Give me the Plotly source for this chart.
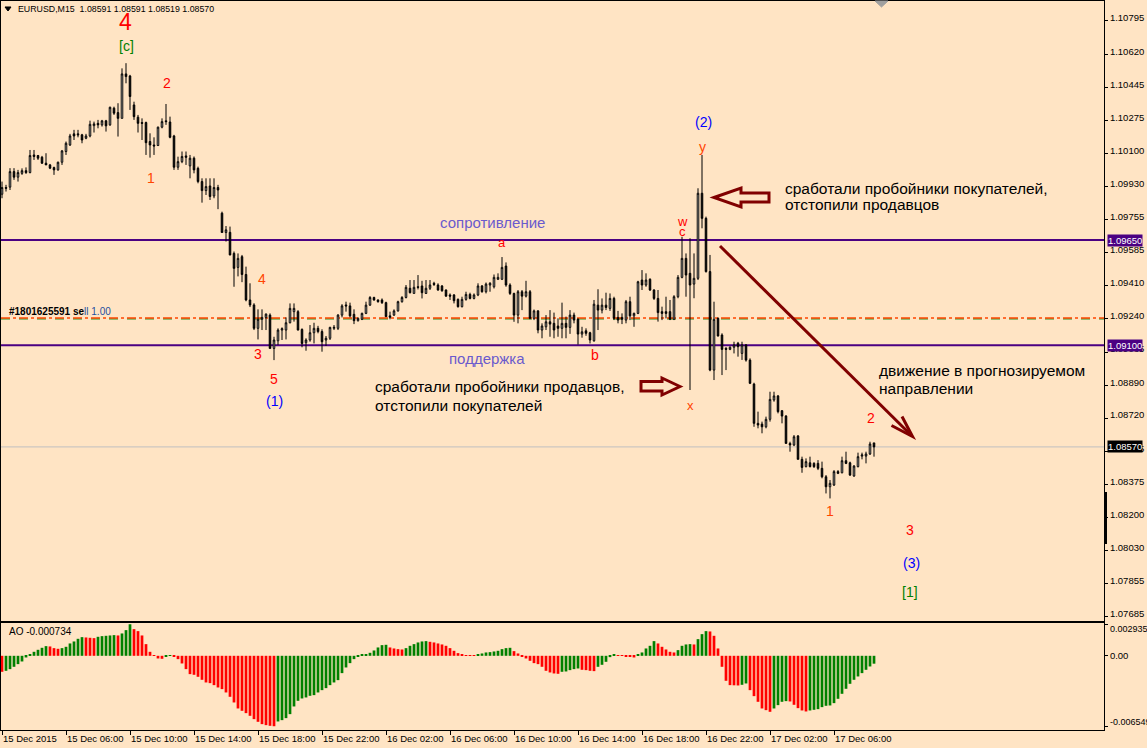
import plotly.graph_objects as go
import pandas as pd

# ---------------- data ----------------
start_time = "2015-12-15 02:00"
opens = [
    1.09889, 1.09924, 1.09926, 1.10007, 1.09978, 1.09998, 1.10012, 1.10002, 1.10094, 1.10091,
    1.10082, 1.10051, 1.10042, 1.10028, 1.10016, 1.10056, 1.10112, 1.10146, 1.10204, 1.10204,
    1.10199, 1.10181, 1.10193, 1.10247, 1.10259, 1.10251, 1.10272, 1.10251, 1.10338, 1.10315,
    1.10285, 1.10517, 1.10506, 1.10355, 1.10291, 1.10263, 1.10263, 1.10164, 1.10146, 1.10143,
    1.10239, 1.10272, 1.10266, 1.10193, 1.10030, 1.10059, 1.10089, 1.10037, 1.10077, 1.10024,
    1.09955, 1.09908, 1.09932, 1.09880, 1.09924, 1.09790, 1.09689, 1.09690, 1.09580, 1.09507,
    1.09563, 1.09470, 1.09337, 1.09311, 1.09189, 1.09236, 1.09246, 1.09258, 1.09084, 1.09124,
    1.09180, 1.09180, 1.09218, 1.09276, 1.09276, 1.09183, 1.09114, 1.09128, 1.09166, 1.09189,
    1.09172, 1.09128, 1.09137, 1.09189, 1.09189, 1.09258, 1.09311, 1.09306, 1.09262, 1.09229,
    1.09236, 1.09267, 1.09310, 1.09350, 1.09337, 1.09337, 1.09323, 1.09254, 1.09258, 1.09280,
    1.09328, 1.09350, 1.09398, 1.09371, 1.09406, 1.09410, 1.09371, 1.09398, 1.09424, 1.09415,
    1.09410, 1.09389, 1.09363, 1.09363, 1.09340, 1.09302, 1.09340, 1.09366, 1.09345, 1.09363,
    1.09410, 1.09380, 1.09415, 1.09406, 1.09445, 1.09445, 1.09514, 1.09415, 1.09371, 1.09258,
    1.09380, 1.09357, 1.09380, 1.09241, 1.09280, 1.09180, 1.09197, 1.09223, 1.09215, 1.09201,
    1.09189, 1.09215, 1.09194, 1.09258, 1.09236, 1.09159, 1.09176, 1.09166, 1.09124, 1.09310,
    1.09284, 1.09310, 1.09293, 1.09345, 1.09246, 1.09246, 1.09232, 1.09328, 1.09254, 1.09267,
    1.09441, 1.09415, 1.09445, 1.09389, 1.09345, 1.09276, 1.09276, 1.09276, 1.09236, 1.09354,
    1.09455, 1.09554, 1.09476, 1.09420, 1.09450, 1.09894, 1.09763, 1.09485, 1.08971, 1.09241,
    1.09154, 1.09085, 1.09079, 1.09090, 1.09111, 1.09058, 1.09102, 1.09023, 1.08898, 1.08693,
    1.08689, 1.08675, 1.08714, 1.08815, 1.08836, 1.08759, 1.08731, 1.08588, 1.08580, 1.08627,
    1.08505, 1.08467, 1.08487, 1.08484, 1.08484, 1.08458, 1.08414, 1.08362, 1.08371, 1.08441,
    1.08435, 1.08498, 1.08487, 1.08418, 1.08467, 1.08522, 1.08522, 1.08533, 1.08591,
]
highs = [
    1.09955, 1.09938, 1.10025, 1.10025, 1.10016, 1.10024, 1.10029, 1.10120, 1.10120, 1.10094,
    1.10089, 1.10103, 1.10047, 1.10033, 1.10059, 1.10120, 1.10164, 1.10204, 1.10225, 1.10225,
    1.10204, 1.10204, 1.10273, 1.10268, 1.10277, 1.10277, 1.10277, 1.10346, 1.10346, 1.10364,
    1.10546, 1.10573, 1.10512, 1.10372, 1.10303, 1.10285, 1.10268, 1.10207, 1.10186, 1.10242,
    1.10285, 1.10360, 1.10294, 1.10199, 1.10085, 1.10112, 1.10112, 1.10094, 1.10086, 1.10033,
    1.09972, 1.09972, 1.09972, 1.09972, 1.09938, 1.09798, 1.09723, 1.09720, 1.09590, 1.09580,
    1.09572, 1.09511, 1.09424, 1.09320, 1.09288, 1.09288, 1.09267, 1.09267, 1.09145, 1.09189,
    1.09194, 1.09246, 1.09319, 1.09319, 1.09284, 1.09189, 1.09137, 1.09206, 1.09218, 1.09202,
    1.09184, 1.09149, 1.09197, 1.09206, 1.09263, 1.09315, 1.09328, 1.09323, 1.09288, 1.09246,
    1.09271, 1.09328, 1.09357, 1.09354, 1.09340, 1.09345, 1.09328, 1.09276, 1.09288, 1.09333,
    1.09357, 1.09415, 1.09441, 1.09441, 1.09467, 1.09437, 1.09441, 1.09441, 1.09432, 1.09424,
    1.09415, 1.09392, 1.09371, 1.09368, 1.09345, 1.09354, 1.09380, 1.09375, 1.09371, 1.09424,
    1.09415, 1.09428, 1.09430, 1.09470, 1.09476, 1.09561, 1.09533, 1.09424, 1.09375, 1.09389,
    1.09389, 1.09437, 1.09389, 1.09287, 1.09284, 1.09215, 1.09258, 1.09284, 1.09271, 1.09241,
    1.09323, 1.09250, 1.09284, 1.09271, 1.09241, 1.09197, 1.09189, 1.09171, 1.09337, 1.09393,
    1.09345, 1.09375, 1.09371, 1.09354, 1.09280, 1.09267, 1.09337, 1.09354, 1.09271, 1.09437,
    1.09493, 1.09476, 1.09450, 1.09393, 1.09389, 1.09302, 1.09354, 1.09337, 1.09362, 1.09467,
    1.09667, 1.09580, 1.09659, 1.09580, 1.09920, 1.10094, 1.09772, 1.09572, 1.09328, 1.09246,
    1.09163, 1.09090, 1.09095, 1.09119, 1.09118, 1.09119, 1.09107, 1.09032, 1.08905, 1.08754,
    1.08702, 1.08728, 1.08858, 1.08858, 1.08841, 1.08762, 1.08736, 1.08597, 1.08632, 1.08632,
    1.08519, 1.08510, 1.08519, 1.08490, 1.08501, 1.08493, 1.08423, 1.08397, 1.08449, 1.08449,
    1.08519, 1.08545, 1.08493, 1.08475, 1.08540, 1.08540, 1.08545, 1.08597, 1.08591,
]
lows = [
    1.09868, 1.09903, 1.09911, 1.09964, 1.09955, 1.09990, 1.09995, 1.09998, 1.10068, 1.10068,
    1.10047, 1.10042, 1.10020, 1.09990, 1.10012, 1.10042, 1.10094, 1.10141, 1.10172, 1.10186,
    1.10155, 1.10176, 1.10186, 1.10211, 1.10233, 1.10242, 1.10216, 1.10246, 1.10303, 1.10190,
    1.10285, 1.10468, 1.10329, 1.10277, 1.10211, 1.10172, 1.10094, 1.10080, 1.10094, 1.10141,
    1.10233, 1.10251, 1.10181, 1.10016, 1.10016, 1.10051, 1.10042, 1.09972, 1.09998, 1.09946,
    1.09845, 1.09885, 1.09859, 1.09868, 1.09811, 1.09689, 1.09642, 1.09570, 1.09406, 1.09460,
    1.09430, 1.09330, 1.09300, 1.09180, 1.09131, 1.09180, 1.09180, 1.09084, 1.09023, 1.09102,
    1.09128, 1.09131, 1.09215, 1.09224, 1.09178, 1.09090, 1.09072, 1.09119, 1.09110, 1.09163,
    1.09067, 1.09097, 1.09128, 1.09180, 1.09180, 1.09246, 1.09276, 1.09246, 1.09211, 1.09224,
    1.09232, 1.09263, 1.09306, 1.09333, 1.09323, 1.09316, 1.09250, 1.09236, 1.09254, 1.09276,
    1.09323, 1.09345, 1.09371, 1.09371, 1.09392, 1.09345, 1.09368, 1.09389, 1.09410, 1.09385,
    1.09380, 1.09354, 1.09337, 1.09319, 1.09297, 1.09298, 1.09333, 1.09340, 1.09340, 1.09357,
    1.09375, 1.09371, 1.09380, 1.09397, 1.09441, 1.09441, 1.09406, 1.09363, 1.09223, 1.09215,
    1.09284, 1.09350, 1.09236, 1.09232, 1.09163, 1.09137, 1.09180, 1.09145, 1.09137, 1.09145,
    1.09137, 1.09137, 1.09160, 1.09215, 1.09104, 1.09140, 1.09150, 1.09110, 1.09119, 1.09180,
    1.09267, 1.09284, 1.09280, 1.09232, 1.09215, 1.09211, 1.09215, 1.09232, 1.09197, 1.09263,
    1.09389, 1.09406, 1.09384, 1.09337, 1.09224, 1.09232, 1.09241, 1.09232, 1.09232, 1.09346,
    1.09450, 1.09354, 1.08867, 1.09346, 1.09441, 1.09711, 1.09480, 1.08965, 1.08919, 1.09146,
    1.08945, 1.08971, 1.09075, 1.09058, 1.09041, 1.09024, 1.09015, 1.08898, 1.08675, 1.08667,
    1.08641, 1.08667, 1.08702, 1.08806, 1.08745, 1.08693, 1.08588, 1.08545, 1.08574, 1.08505,
    1.08435, 1.08463, 1.08463, 1.08460, 1.08449, 1.08406, 1.08327, 1.08301, 1.08366, 1.08428,
    1.08432, 1.08480, 1.08418, 1.08414, 1.08463, 1.08505, 1.08484, 1.08528, 1.08519,
]
closes = [
    1.09924, 1.09920, 1.10007, 1.09978, 1.10002, 1.10012, 1.10002, 1.10091, 1.10086, 1.10077,
    1.10051, 1.10042, 1.10025, 1.10016, 1.10056, 1.10115, 1.10155, 1.10193, 1.10193, 1.10199,
    1.10172, 1.10193, 1.10254, 1.10256, 1.10251, 1.10272, 1.10246, 1.10343, 1.10312, 1.10285,
    1.10517, 1.10503, 1.10399, 1.10294, 1.10259, 1.10259, 1.10158, 1.10146, 1.10141, 1.10239,
    1.10268, 1.10268, 1.10186, 1.10030, 1.10059, 1.10086, 1.10082, 1.10077, 1.10016, 1.09955,
    1.09908, 1.09929, 1.09877, 1.09924, 1.09911, 1.09689, 1.09703, 1.09572, 1.09502, 1.09554,
    1.09470, 1.09337, 1.09311, 1.09189, 1.09236, 1.09246, 1.09263, 1.09084, 1.09128, 1.09180,
    1.09187, 1.09218, 1.09293, 1.09293, 1.09180, 1.09110, 1.09128, 1.09166, 1.09189, 1.09172,
    1.09119, 1.09137, 1.09194, 1.09194, 1.09258, 1.09306, 1.09306, 1.09254, 1.09229, 1.09241,
    1.09267, 1.09310, 1.09350, 1.09337, 1.09328, 1.09323, 1.09250, 1.09247, 1.09280, 1.09328,
    1.09350, 1.09403, 1.09375, 1.09403, 1.09403, 1.09375, 1.09398, 1.09415, 1.09418, 1.09389,
    1.09385, 1.09357, 1.09357, 1.09333, 1.09302, 1.09340, 1.09366, 1.09345, 1.09363, 1.09410,
    1.09380, 1.09420, 1.09424, 1.09455, 1.09455, 1.09507, 1.09415, 1.09371, 1.09258, 1.09380,
    1.09357, 1.09380, 1.09241, 1.09280, 1.09180, 1.09201, 1.09223, 1.09211, 1.09180, 1.09189,
    1.09215, 1.09194, 1.09258, 1.09232, 1.09159, 1.09171, 1.09163, 1.09128, 1.09315, 1.09284,
    1.09310, 1.09298, 1.09345, 1.09241, 1.09232, 1.09236, 1.09328, 1.09254, 1.09267, 1.09432,
    1.09415, 1.09441, 1.09389, 1.09345, 1.09271, 1.09267, 1.09267, 1.09236, 1.09354, 1.09455,
    1.09554, 1.09467, 1.09415, 1.09450, 1.09894, 1.09763, 1.09485, 1.08971, 1.09236, 1.09149,
    1.09079, 1.09079, 1.09090, 1.09102, 1.09093, 1.09102, 1.09023, 1.08902, 1.08693, 1.08684,
    1.08675, 1.08714, 1.08818, 1.08836, 1.08754, 1.08731, 1.08588, 1.08580, 1.08623, 1.08505,
    1.08463, 1.08493, 1.08467, 1.08467, 1.08458, 1.08414, 1.08362, 1.08380, 1.08441, 1.08432,
    1.08498, 1.08484, 1.08423, 1.08470, 1.08519, 1.08528, 1.08533, 1.08585, 1.08570,
]
ao_values = [
    -0.001488, -0.001395, -0.00124, -0.001023, -0.000775, -0.000527, -0.000155, 0.000155, 0.000372, 0.000558,
    0.000744, 0.000899, 0.000868, 0.000713, 0.000651, 0.000713, 0.000837, 0.001147, 0.001333, 0.001581,
    0.001736, 0.001705, 0.001674, 0.001643, 0.001767, 0.001829, 0.00186, 0.001891, 0.001922, 0.001891,
    0.002077, 0.002387, 0.002935, 0.00248, 0.002294, 0.001891, 0.001085, 0.000372, 0.000062, -0.000248,
    -0.000279, -0.000093, 0.000062, -0.000031, -0.00031, -0.000713, -0.00124, -0.001705, -0.001767, -0.001953,
    -0.002232, -0.00248, -0.002542, -0.002728, -0.002945, -0.0031, -0.00341, -0.003813, -0.00434, -0.004898,
    -0.005115, -0.005332, -0.00558, -0.00589, -0.006138, -0.006355, -0.006448, -0.00651, -0.006549, -0.006107,
    -0.005983, -0.005797, -0.005425, -0.004712, -0.004185, -0.003968, -0.003875, -0.00372, -0.003658, -0.00341,
    -0.003193, -0.003007, -0.002728, -0.00248, -0.002263, -0.001612, -0.001085, -0.000682, -0.00031, -0.000093,
    0.000093, 0.000155, 0.000279, 0.000496, 0.000775, 0.000992, 0.001023, 0.000775, 0.000682, 0.00062,
    0.000589, 0.000713, 0.00093, 0.001085, 0.00124, 0.001333, 0.001364, 0.001302, 0.00124, 0.001147,
    0.001054, 0.00093, 0.000713, 0.000465, 0.000248, 0.000093, 0.000062, 0.000047, 0.000031, 0.000124,
    0.000217, 0.00031, 0.000341, 0.000403, 0.000465, 0.00062, 0.000713, 0.000744, 0.000434, 0.000217,
    -0.000062, -0.000248, -0.000465, -0.000682, -0.000775, -0.001023, -0.001395, -0.00155, -0.001643, -0.001674,
    -0.001488, -0.001457, -0.001333, -0.00124, -0.001178, -0.001302, -0.001333, -0.001395, -0.001426, -0.001023,
    -0.000837, -0.000558, -0.000124, 0.000093, 0.000031, 0.000016, -0.000062, -0.000093, -0.000155, 0.000093,
    0.00031, 0.000682, 0.00093, 0.001364, 0.001147, 0.000837, 0.000589, 0.000372, 0.00031, 0.000527,
    0.00093, 0.001054, 0.001085, 0.001054, 0.00155, 0.002015, 0.002294, 0.002263, 0.00186, 0.000682,
    -0.001023, -0.002325, -0.002728, -0.002744, -0.002759, -0.002697, -0.002573, -0.003193, -0.003751, -0.004278,
    -0.004898, -0.005053, -0.005208, -0.004898, -0.004588, -0.004278, -0.004216, -0.004247, -0.004557, -0.004867,
    -0.005084, -0.005177, -0.005084, -0.005022, -0.00496, -0.004774, -0.00465, -0.004619, -0.004402, -0.003999,
    -0.003534, -0.003069, -0.002604, -0.002232, -0.001922, -0.001612, -0.001302, -0.000992, -0.000734,
]
price_ticks = [1.10795, 1.10620, 1.10445, 1.10275, 1.10100, 1.09930, 1.09755, 1.09585, 1.09410,
               1.09240, 1.09065, 1.08890, 1.08720, 1.08545, 1.08375, 1.08200, 1.08030, 1.07855, 1.07685]
time_labels = ["15 Dec 2015", "15 Dec 06:00", "15 Dec 10:00", "15 Dec 14:00", "15 Dec 18:00",
               "15 Dec 22:00", "16 Dec 02:00", "16 Dec 06:00", "16 Dec 10:00", "16 Dec 14:00",
               "16 Dec 18:00", "16 Dec 22:00", "17 Dec 02:00", "17 Dec 06:00"]
ao_max, ao_min = 0.002935, -0.006549
ao_max_label, ao_zero_label, ao_min_label = "0.002935", "0.00", "-0.006549"
resistance = 1.09650
support = 1.09100
bid = 1.08570
order_price = 1.09243
order_open = 1.09238
header = "EURUSD,M15&nbsp;&nbsp;1.08591 1.08591 1.08519 1.08570"
ao_header = "AO -0.000734"

# ---------------- figure ----------------
W, H = 1147, 748
PL, PR, PT, PB = 1, 1104, 1, 730   # plot area in pixels
BG = "#FFE4C4"
FONT = "Liberation Sans, Arial, sans-serif"
MAROON = "#800000"
INDIGO = "#4B0082"


def fx(px):
    return (px - PL) / (PR - PL)


def fy(py):
    return (PB - py) / (PB - PT)


times = pd.date_range(start_time, periods=len(closes), freq="15min")
step = pd.Timedelta(minutes=15)
x_range = [times[0] - step * 0.25, times[0] + step * 275.5]
ao_colors = ["#FF0000"] + ["#008000" if ao_values[i] > ao_values[i - 1] else "#FF0000"
                           for i in range(1, len(ao_values))]

fig = go.Figure()
fig.add_trace(go.Candlestick(
    x=times, open=opens, high=highs, low=lows, close=closes,
    increasing=dict(line=dict(color="black", width=1), fillcolor="white"),
    decreasing=dict(line=dict(color="black", width=1), fillcolor="black"),
    whiskerwidth=0, hoverinfo="skip", showlegend=False, xaxis="x", yaxis="y"))
fig.add_trace(go.Bar(
    x=times, y=ao_values, marker=dict(color=ao_colors, line=dict(width=0)),
    width=15 * 60 * 1000 * 0.68, hoverinfo="skip", showlegend=False, xaxis="x2", yaxis="y2"))

axis_common = dict(showgrid=False, zeroline=False, showline=True, mirror=True,
                   linecolor="black", linewidth=1, automargin=False)
fig.update_layout(
    width=W, height=H, paper_bgcolor=BG, plot_bgcolor=BG,
    margin=dict(l=PL, r=W - PR, t=PT, b=H - PB, pad=0, autoexpand=False),
    boxgap=0.45, showlegend=False,
    font=dict(family=FONT, color="black", size=10),
    xaxis=dict(domain=[0, 1], anchor="y", range=x_range, showticklabels=False, ticks="",
               rangeslider=dict(visible=False), **axis_common),
    xaxis2=dict(domain=[0, 1], anchor="y2", matches="x", range=x_range,
                tickvals=list(times[::16]), ticktext=time_labels, ticks="outside", ticklen=4,
                tickcolor="black", ticklabelposition="outside right", tickangle=0,
                tickfont=dict(size=9.5, family=FONT), **axis_common),
    yaxis=dict(domain=[fy(621), 1], anchor="x", range=[1.076612, 1.108976], side="right",
               tickvals=price_ticks, ticktext=[f"{v:.5f}" for v in price_ticks],
               ticks="outside", ticklen=3, tickcolor="black", ticklabelshift=-3,
               tickfont=dict(size=9.5, family=FONT), **axis_common),
    yaxis2=dict(domain=[0, fy(623)], anchor="x2", range=[-0.0069, 0.00305], side="right",
                tickvals=[ao_max, 0.0, ao_min], ticktext=["", ao_zero_label, ""],
                ticks="outside", ticklen=3,
                tickcolor="black", tickfont=dict(size=9.5, family=FONT), **axis_common),
)

shapes = []
# horizontal levels
for price, color, width, dash in [(bid, "#C0C0C0", 1, "solid"),
                                  (order_open, "#008000", 1, "dash"),
                                  (order_price, "#FF4500", 1.5, "dashdot"),
                                  (resistance, INDIGO, 2, "solid"),
                                  (support, INDIGO, 2, "solid")]:
    shapes.append(dict(type="line", xref="paper", x0=0, x1=1, yref="y", y0=price, y1=price,
                       line=dict(color=color, width=width, dash=dash), layer="below"))


def path_from(points, close=True):
    return "M " + " L ".join(f"{fx(a):.5f},{fy(b):.5f}" for a, b in points) + (" Z" if close else "")


# hollow block arrows
left_arrow = [(714, 197.5), (741, 188), (741, 193), (769, 193), (769, 202), (741, 202), (741, 207)]
right_arrow = [(680, 386.5), (662, 378), (662, 381.5), (641, 381.5), (641, 391), (662, 391), (662, 395)]
for pts in (left_arrow, right_arrow):
    shapes.append(dict(type="path", xref="paper", yref="paper", path=path_from(pts),
                       line=dict(color=MAROON, width=3), fillcolor="rgba(0,0,0,0)"))
# forecast arrow: shaft and open head
shapes.append(dict(type="path", xref="paper", yref="paper",
                   path=path_from([(720, 246), (912, 436)], close=False),
                   line=dict(color=MAROON, width=3)))
shapes.append(dict(type="path", xref="paper", yref="paper",
                   path=path_from([(902, 416.5), (912.5, 436.5), (891.5, 425.5)], close=False),
                   line=dict(color=MAROON, width=3)))
# header triangle, chart shift marker, right-side block
shapes.append(dict(type="path", xref="paper", yref="paper",
                   path=path_from([(5, 7), (11, 7), (8, 11)]), fillcolor="black",
                   line=dict(color="black", width=1)))
shapes.append(dict(type="path", xref="paper", yref="paper",
                   path=path_from([(875, 1), (888, 1), (881.5, 7)]), fillcolor="#A0A0A0",
                   line=dict(color="#A0A0A0", width=1)))
shapes.append(dict(type="rect", xref="paper", yref="paper", x0=fx(1104), x1=fx(1107),
                   y0=fy(544), y1=fy(492), fillcolor="black", line=dict(width=0)))
fig.update_layout(shapes=shapes)

ann = []


def text(t, xp, yp, color="black", size=14, xanchor="center", family=FONT):
    ann.append(dict(text=t, x=fx(xp), y=fy(yp), xref="paper", yref="paper", showarrow=False,
                    xanchor=xanchor, yanchor="middle", font=dict(color=color, size=size, family=family)))


RED, ORED, BLUE, GREEN, SLATE = "#FF0000", "#FF4500", "#0000FF", "#008000", "#6A5ACD"
wave_labels = [
    ("4", 125, 22, RED, 23), ("[c]", 126, 46, GREEN, 14), ("2", 166.5, 83.5, RED, 14),
    ("1", 151, 178, ORED, 14), ("4", 261.5, 279, ORED, 14), ("3", 258, 353.5, RED, 14),
    ("5", 274, 379, RED, 14), ("(1)", 274, 401, BLUE, 14), ("a", 502, 242, RED, 13),
    ("b", 595, 355, RED, 14), ("w", 682, 221, RED, 13), ("c", 682, 231, RED, 13),
    ("y", 702.5, 147, ORED, 14), ("(2)", 703, 122, BLUE, 14), ("x", 690, 405, ORED, 13),
    ("2", 870.5, 417.5, RED, 14), ("1", 830, 511, ORED, 14), ("3", 910, 530, RED, 14),
    ("(3)", 911, 563, BLUE, 14), ("[1]", 910, 592, GREEN, 14),
]
for t, xp, yp, c, s in wave_labels:
    text(t, xp, yp, c, s)

text("сопротивление", 492, 222, SLATE, 15)
text("поддержка", 487, 359, SLATE, 15)
text("сработали пробойники покупателей,", 783, 188, size=15.5, xanchor="left")
text("отстопили продавцов", 783, 205, size=15.5, xanchor="left")
text("сработали пробойники продавцов,", 373, 387, size=15.5, xanchor="left")
text("отстопили покупателей", 373, 405, size=15.5, xanchor="left")
text("движение в прогнозируемом", 877, 370, size=15.5, xanchor="left")
text("направлении", 877, 388, size=15.5, xanchor="left")
text(header, 16, 9, size=8.8, xanchor="left")
text(ao_header, 7, 631.5, size=10, xanchor="left")
text("<b>#1801625591 se</b><span style='color:#1F4FA0'>ll 1.00</span>", 7, 311, size=10,
     xanchor="left")
# AO scale extremes, drawn inside the panel edges as the terminal does
text(ao_max_label, 1108, 629, size=9, xanchor="left")
text(ao_min_label, 1108, 722, size=9, xanchor="left")

# price boxes on the axis
for price, bgc in [(resistance, INDIGO), (support, INDIGO), (bid, "black")]:
    ann.append(dict(text=f"{price:.5f}", x=fx(1107), y=price, xref="paper", yref="y",
                    showarrow=False, xanchor="left", yanchor="middle", bgcolor=bgc, borderpad=0,
                    font=dict(color="white", size=9.5, family=FONT)))
fig.update_layout(annotations=ann)

fig.write_html("out.html", config={"displayModeBar": False},
               post_script="document.body.style.margin='0';document.body.style.overflow='hidden';")
